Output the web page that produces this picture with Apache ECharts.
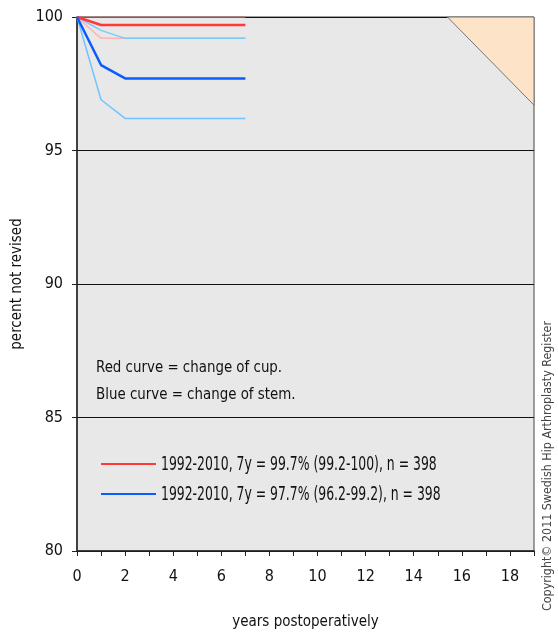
<!DOCTYPE html>
<html><head><meta charset="utf-8">
<script src="https://cdn.jsdelivr.net/npm/echarts@6/dist/echarts.min.js"></script>
<style>html,body{margin:0;padding:0;background:#fff}#c{width:558px;height:635px}</style>
</head><body><div id="c"></div>
<script>
var years = [0, 1, 2, 3, 4, 5, 6, 7];
var cupValues = [100, 99.7, 99.7, 99.7, 99.7, 99.7, 99.7, 99.7];
var cupLower = [100, 99.2, 99.2, 99.2, 99.2, 99.2, 99.2, 99.2];
var cupUpper = [100, 100, 100, 100, 100, 100, 100, 100];
var stemValues = [100, 98.2, 97.7, 97.7, 97.7, 97.7, 97.7, 97.7];
var stemLower = [100, 96.9, 96.2, 96.2, 96.2, 96.2, 96.2, 96.2];
var stemUpper = [100, 99.5, 99.2, 99.2, 99.2, 99.2, 99.2, 99.2];
var shadeX = [15.4, 19, 19];
var shadeY = [100, 100, 96.7];
var cupName = '1992-2010, 7y = 99.7% (99.2-100), n = 398';
var stemName = '1992-2010, 7y = 97.7% (96.2-99.2), n = 398';
var cupColor = '#ff3838', stemColor = '#0a5cff';

var FONT = '"DejaVu Sans Condensed", "DejaVu Sans", sans-serif';
function pairs(ys){ return years.map(function(x,i){ return [x, ys[i]]; }); }

var chart = echarts.init(document.getElementById('c'));
chart.setOption({
  animation: false,
  backgroundColor: '#fff',
  textStyle: { fontFamily: FONT },
  grid: { left: 77, right: 24, top: 17, bottom: 84, show: true, backgroundColor: '#e8e8e8', borderColor: '#444', borderWidth: 1 },
  xAxis: {
    type: 'value', min: 0, max: 19, interval: 1,
    name: 'years postoperatively', nameLocation: 'middle', nameGap: 64,
    nameTextStyle: { color: '#111', fontSize: 15, fontFamily: FONT },
    axisLine: { lineStyle: { color: '#222', width: 1.5 } },
    axisTick: { show: true, length: 5, lineStyle: { color: '#222' } },
    axisLabel: { color: '#111', fontSize: 16, fontFamily: FONT, margin: 18,
      formatter: function(v){ return v % 2 === 0 ? String(v) : ''; } },
    splitLine: { show: false }
  },
  yAxis: {
    type: 'value', min: 80, max: 100, interval: 5,
    name: 'percent not revised', nameLocation: 'middle', nameGap: 47, nameRotate: 90,
    nameTextStyle: { color: '#111', fontSize: 15, fontFamily: FONT },
    axisLine: { show: true, lineStyle: { color: '#222', width: 1.5 } },
    axisTick: { show: true, length: 5, lineStyle: { color: '#222' } },
    axisLabel: { color: '#111', fontSize: 16, fontFamily: FONT, margin: 14 },
    splitLine: { show: true, lineStyle: { color: '#111', width: 1 } }
  },
  graphic: [
    { type: 'text', x: 96, y: 368, scaleX: 0.93, style: { text: 'Red curve = change of cup.', fill: '#111', font: '16px ' + FONT, verticalAlign: 'middle' } },
    { type: 'text', x: 96, y: 395, scaleX: 0.93, style: { text: 'Blue curve = change of stem.', fill: '#111', font: '16px ' + FONT, verticalAlign: 'middle' } },
    { type: 'line', shape: { x1: 101, y1: 464, x2: 156, y2: 464 }, style: { stroke: cupColor, lineWidth: 2 } },
    { type: 'text', x: 161, y: 465, scaleX: 0.69, style: { text: cupName, fill: '#111', font: '20px ' + FONT, verticalAlign: 'middle' } },
    { type: 'line', shape: { x1: 101, y1: 494, x2: 156, y2: 494 }, style: { stroke: stemColor, lineWidth: 2 } },
    { type: 'text', x: 161, y: 495, scaleX: 0.69, style: { text: stemName, fill: '#111', font: '20px ' + FONT, verticalAlign: 'middle' } },
    { type: 'text', x: 554, y: 611, rotation: Math.PI/2, scaleX: 1.03, style: { text: 'Copyright© 2011 Swedish Hip Arthroplasty Register', fill: '#444', font: '12px ' + FONT, align: 'left', verticalAlign: 'bottom' } }
  ],
  series: [
    { type: 'custom', silent: true, z: 1,
      renderItem: function(params, api){
        var pts = shadeX.map(function(x,i){ return api.coord([x, shadeY[i]]); });
        return { type: 'polygon', shape: { points: pts }, style: { fill: '#fde3c8', stroke: '#777', lineWidth: 1 } };
      },
      data: [[0]] },
    { name: 'cupUpper', type: 'line', data: pairs(cupUpper), symbol: 'none', lineStyle: { color: '#a87070', width: 1.5 }, z: 3 },
    { name: 'cupLower', type: 'line', data: pairs(cupLower), symbol: 'none', lineStyle: { color: '#ffb4b4', width: 1.5 }, z: 3 },
    { name: 'stemUpper', type: 'line', data: pairs(stemUpper), symbol: 'none', lineStyle: { color: '#7cc8f4', width: 1.5 }, z: 3 },
    { name: 'stemLower', type: 'line', data: pairs(stemLower), symbol: 'none', lineStyle: { color: '#70c4ff', width: 1.5 }, z: 3 },
    { name: cupName, type: 'line', data: pairs(cupValues), symbol: 'none', lineStyle: { color: cupColor, width: 2.5 }, z: 4 },
    { name: stemName, type: 'line', data: pairs(stemValues), symbol: 'none', lineStyle: { color: stemColor, width: 2.5 }, z: 4 }
  ]
});
</script></body></html>
